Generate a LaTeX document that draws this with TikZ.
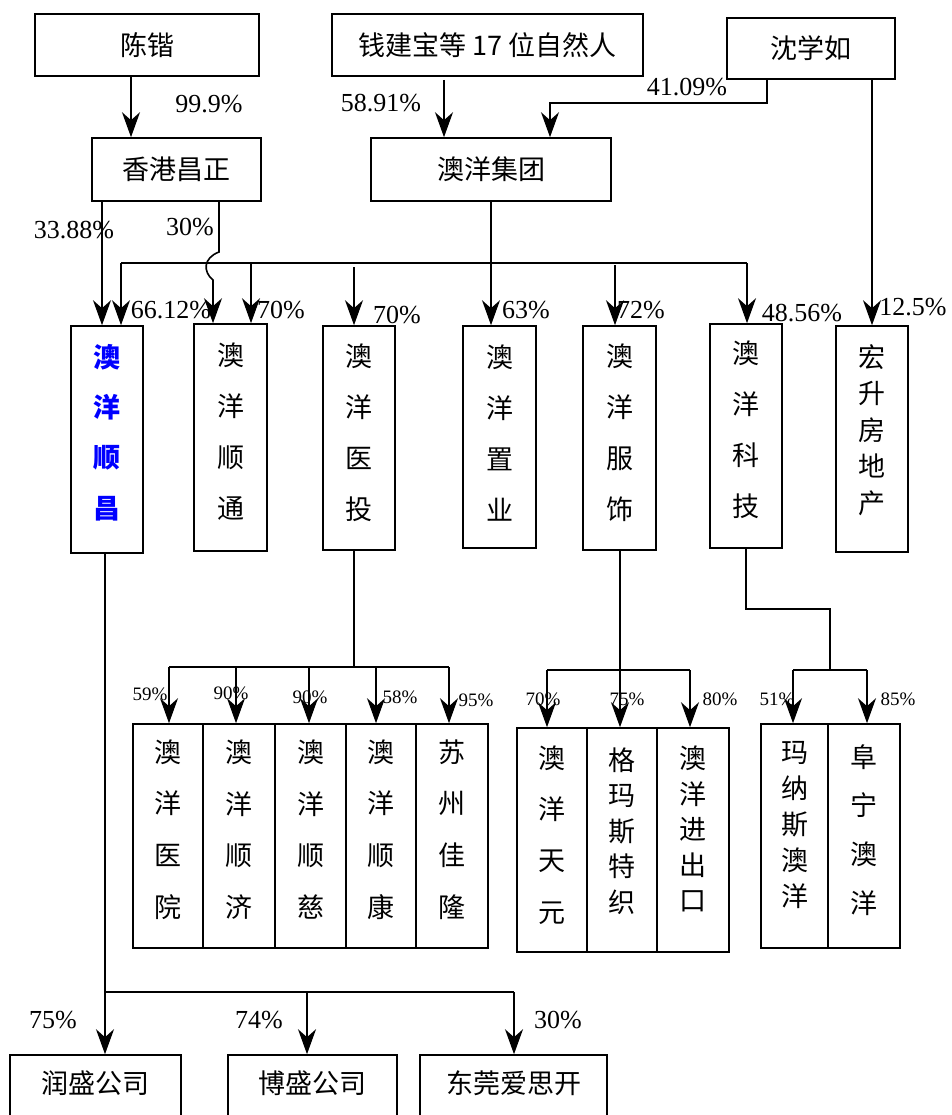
\documentclass[tikz,border=0pt]{standalone}
\usepackage{fontspec}
\setmainfont{Liberation Serif}
\newfontfamily\cjk{Noto Sans CJK SC}
\usetikzlibrary{arrows.meta}
\begin{document}
\begin{tikzpicture}[x=1pt,y=-1pt,
  box/.style={draw,line width=1.6pt,inner sep=0pt},
  htext/.style={inner sep=0pt,font=\cjk\fontsize{27}{32}\selectfont},
  vt/.style={inner sep=0pt,align=center,font=\cjk\fontsize{27}{#1}\selectfont},
  ln/.style={line width=1.6pt},
  arr/.style={line width=1.6pt,-{Stealth[length=25pt,width=18pt,inset=8pt]}},
  pct/.style={inner sep=0pt,font=\fontsize{26}{26}\selectfont},
  spct/.style={inner sep=0pt,font=\fontsize{19}{19}\selectfont},
]
\useasboundingbox (0,0) rectangle (951,1115);
\clip (0,0) rectangle (951,1115);

% ---- top row
\node[box,minimum width=224,minimum height=62] (ck) at (147,45) {};
\node[htext] (ck-t) at (147,45) {陈锴};
\node[box,minimum width=311,minimum height=62] (qjb) at (487.5,45) {};
\node[htext] (qjb-t) at (487.5,45) {钱建宝等 17 位自然人};
\node[box,minimum width=168,minimum height=61] (sxr) at (811,48.5) {};
\node[htext] (sxr-t) at (811,48.5) {沈学如};

\node[box,minimum width=169,minimum height=63] (hkcz) at (176.5,169.5) {};
\node[htext] (hkcz-t) at (176.5,169.5) {香港昌正};
\node[box,minimum width=240,minimum height=63] (ayjt) at (491,169.5) {};
\node[htext] (ayjt-t) at (491,169.5) {澳洋集团};

% ---- second row
\node[box,minimum width=72,minimum height=227] (shc) at (107,439.5) {};
\node[vt=50.3,text=blue] (shc-t) at (107,432.5) {\bfseries 澳\\\bfseries 洋\\\bfseries 顺\\\bfseries 昌};
\node[box,minimum width=73,minimum height=227] (sht) at (230.5,437.5) {};
\node[vt=51] (sht-t) at (230.5,432) {澳\\洋\\顺\\通};
\node[box,minimum width=72,minimum height=224] (yt) at (359,438) {};
\node[vt=51] (yt-t) at (359,433) {澳\\洋\\医\\投};
\node[box,minimum width=73,minimum height=222] (zy) at (499.5,437) {};
\node[vt=51] (zy-t) at (499.5,433) {澳\\洋\\置\\业};
\node[box,minimum width=73,minimum height=224] (fs) at (619.5,438) {};
\node[vt=51] (fs-t) at (619.5,433) {澳\\洋\\服\\饰};
\node[box,minimum width=72,minimum height=224] (kj) at (746,436) {};
\node[vt=51] (kj-t) at (746,430) {澳\\洋\\科\\技};
\node[box,minimum width=72,minimum height=226] (hs) at (872,439) {};
\node[vt=36.5] (hs-t) at (872,430) {宏\\升\\房\\地\\产};

% ---- third row
\node[box,minimum width=70,minimum height=224] (yy) at (168,836) {};
\node[vt=51.7] (yy-t) at (168,829.5) {澳\\洋\\医\\院};
\node[box,minimum width=72,minimum height=224] (sj) at (239,836) {};
\node[vt=51.7] (sj-t) at (239,829.5) {澳\\洋\\顺\\济};
\node[box,minimum width=71,minimum height=224] (sc) at (310.5,836) {};
\node[vt=51.7] (sc-t) at (310.5,829.5) {澳\\洋\\顺\\慈};
\node[box,minimum width=70,minimum height=224] (sk) at (381,836) {};
\node[vt=51.7] (sk-t) at (381,829.5) {澳\\洋\\顺\\康};
\node[box,minimum width=72,minimum height=224] (szjl) at (452,836) {};
\node[vt=51.7] (szjl-t) at (452,829.5) {苏\\州\\佳\\隆};

\node[box,minimum width=70,minimum height=224] (ty) at (552,840) {};
\node[vt=51.3] (ty-t) at (552,835) {澳\\洋\\天\\元};
\node[box,minimum width=70,minimum height=224] (gmst) at (622,840) {};
\node[vt=35.5] (gmst-t) at (622,831) {格\\玛\\斯\\特\\织};
\node[box,minimum width=72,minimum height=224] (jck) at (693,840) {};
\node[vt=35.5] (jck-t) at (693,829) {澳\\洋\\进\\出\\口};

\node[box,minimum width=67,minimum height=224] (mns) at (794.5,836) {};
\node[vt=36] (mns-t) at (794.5,825) {玛\\纳\\斯\\澳\\洋};
\node[box,minimum width=72,minimum height=224] (fn) at (864,836) {};
\node[vt=48.7] (fn-t) at (864,830) {阜\\宁\\澳\\洋};

% ---- bottom row
\node[box,minimum width=171,minimum height=90] (rs) at (95.5,1100) {};
\node[htext] (rs-t) at (95.5,1083) {润盛公司};
\node[box,minimum width=169,minimum height=90] (bs) at (312.5,1100) {};
\node[htext] (bs-t) at (312.5,1083) {博盛公司};
\node[box,minimum width=187,minimum height=90] (dg) at (513.5,1100) {};
\node[htext] (dg-t) at (513.5,1083) {东莞爱思开};

% ---- connectors, top
\draw[arr] (ck.south -| 131,0) -- (hkcz.north -| 131,0);
\node[pct] (l999) at (209,104) {99.9\%};
\draw[arr] (444,80) -- (ayjt.north -| 444,0);
\node[pct] (l5891) at (381,103) {58.91\%};
\draw[arr] (sxr.south -| 767,0) -- (767,103) -- (550,103) -- (ayjt.north -| 550,0);
\node[pct] (l4109) at (687,87) {41.09\%};
\draw[arr] (sxr.south -| 872,0) -- (hs.north);
\node[pct] (l125) at (913,307) {12.5\%};

\draw[arr] (hkcz.south -| 102,0) -- (shc.north -| 102,0);
\node[pct] (l3388) at (74,230) {33.88\%};
\draw[arr] (hkcz.south -| 219,0) -- (219,252) .. controls (203,258) and (203,272) .. (213,280) -- (sht.north -| 213,0);
\node[pct] (l30a) at (190,227) {30\%};

\coordinate (busL) at (121,263);
\coordinate (busR) at (747,263);
\draw[ln] (busL) -- (busR);
\draw[arr] (busL) -- (shc.north -| busL);
\node[pct] (l6612) at (171,310) {66.12\%};
\draw[arr] (251,263) -- (sht.north -| 251,0);
\node[pct] (l70a) at (281,310) {70\%};
\draw[arr] (354,267) -- (yt.north -| 354,0);
\node[pct] (l70b) at (397,315) {70\%};
\draw[arr] (ayjt.south) -- (ayjt.south |- zy.north);
\node[pct] (l63) at (526,310) {63\%};
\draw[arr] (615,265) -- (fs.north -| 615,0);
\node[pct] (l72) at (641,310) {72\%};
\draw[arr] (busR) -- (kj.north -| busR);
\node[pct] (l4856) at (802,313) {48.56\%};

% ---- connectors, medical group
\coordinate (ytbus) at (354,667);
\draw[ln] (yt.south -| ytbus) -- (ytbus);
\draw[ln] (169,667) -- (449,667);
\draw[arr] (169,667) -- (yy.north -| 169,0);
\draw[arr] (236,667) -- (sj.north -| 236,0);
\draw[arr] (309,667) -- (sc.north -| 309,0);
\draw[arr] (376,667) -- (sk.north -| 376,0);
\draw[arr] (449,667) -- (szjl.north -| 449,0);
\node[spct] (l59) at (150,694) {59\%};
\node[spct] (l90a) at (231,693) {90\%};
\node[spct] (l90b) at (310,697) {90\%};
\node[spct] (l58) at (400,697) {58\%};
\node[spct] (l95) at (476,700) {95\%};

% ---- connectors, garment group
\draw[arr] (fs.south -| 620,0) -- (gmst.north -| 620,0);
\draw[ln] (547,670) -- (690,670);
\draw[arr] (547,670) -- (ty.north -| 547,0);
\draw[arr] (690,670) -- (jck.north -| 690,0);
\node[spct] (l70c) at (543,699) {70\%};
\node[spct] (l75a) at (627,699) {75\%};
\node[spct] (l80) at (720,699) {80\%};

% ---- connectors, tech group
\draw[ln] (kj.south) -- (746,609) -- (830,609) -- (830,670);
\draw[ln] (793,670) -- (867,670);
\draw[arr] (793,670) -- (mns.north -| 793,0);
\draw[arr] (867,670) -- (fn.north -| 867,0);
\node[spct] (l51) at (777,699) {51\%};
\node[spct] (l85) at (898,699) {85\%};

% ---- connectors, bottom
\draw[ln] (shc.south -| 105,0) -- (105,992) -- (514,992);
\draw[arr] (105,992) -- (rs.north -| 105,0);
\draw[arr] (307,992) -- (bs.north -| 307,0);
\draw[arr] (514,992) -- (dg.north -| 514,0);
\node[pct] (l75b) at (53,1020) {75\%};
\node[pct] (l74) at (259,1020) {74\%};
\node[pct] (l30b) at (558,1020) {30\%};
\end{tikzpicture}
\end{document}
